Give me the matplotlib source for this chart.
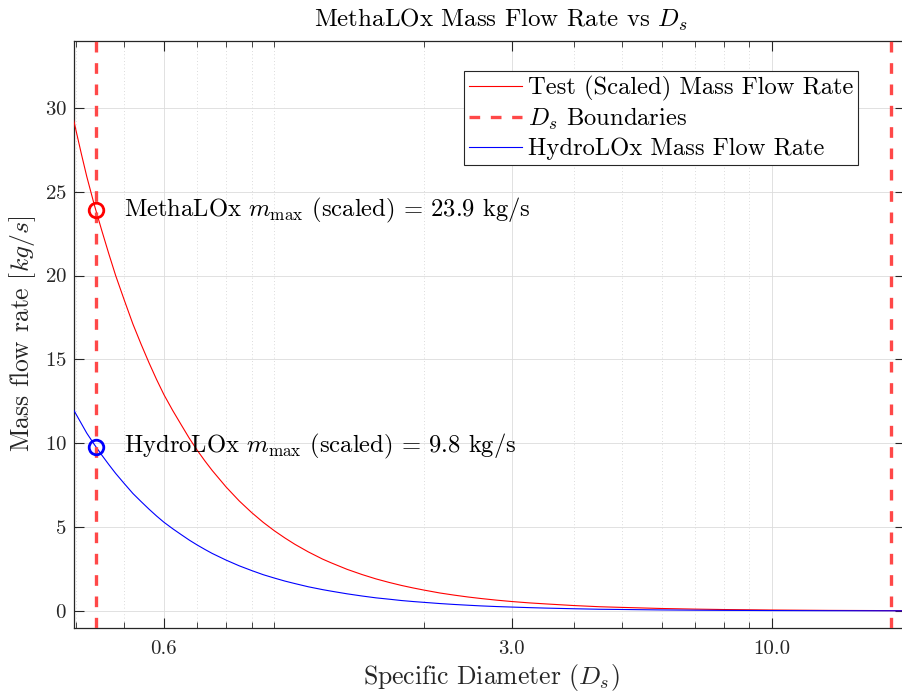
import matplotlib
matplotlib.use("Agg")
import matplotlib.pyplot as plt
from matplotlib.ticker import FixedLocator, FixedFormatter, LogLocator, NullFormatter

plt.rcParams['font.family'] = 'serif'
plt.rcParams['font.serif'] = ['cmr10', 'DejaVu Serif']
plt.rcParams['mathtext.fontset'] = 'cm'
plt.rcParams['axes.unicode_minus'] = False
plt.rcParams['axes.formatter.use_mathtext'] = True

# ---- data ----
ds = [0.395, 0.41, 0.42, 0.435, 0.45, 0.465, 0.48, 0.50, 0.52, 0.54, 0.56, 0.58,
      0.60, 0.625, 0.65, 0.675, 0.70, 0.725, 0.75, 0.80, 0.85, 0.90, 0.95, 1.0,
      1.05, 1.1, 1.17, 1.25, 1.3, 1.4, 1.5, 1.6, 1.7, 1.8, 1.9, 2.0, 2.15, 2.3,
      2.45, 2.6, 2.8, 3.0, 3.25, 3.5, 4.0, 4.5, 5.0, 6.0, 7.0, 8.0, 10.0, 13.0, 18.5]
metha_flow = [29.3, 27.2, 25.9, 24.2, 22.7, 21.3, 20.0, 18.5, 17.1, 15.9, 14.8, 13.8,
              12.9, 11.95, 11.1, 10.29, 9.58, 8.95, 8.38, 7.39, 6.56, 5.87, 5.28, 4.78,
              4.35, 3.97, 3.52, 3.09, 2.87, 2.48, 2.17, 1.91, 1.70, 1.52, 1.37, 1.24, 1.07, 0.94,
              0.83, 0.74, 0.64, 0.56, 0.48, 0.42, 0.32, 0.25, 0.21, 0.145, 0.108, 0.083, 0.054, 0.032, 0.016]
hydro_flow = [12.0, 11.15, 10.6, 9.92, 9.3, 8.73, 8.2, 7.58, 7.0, 6.52, 6.07, 5.66,
              5.29, 4.90, 4.55, 4.22, 3.93, 3.67, 3.43, 3.03, 2.69, 2.41, 2.16, 1.96,
              1.78, 1.63, 1.44, 1.27, 1.18, 1.02, 0.89, 0.78, 0.70, 0.62, 0.56, 0.51, 0.44, 0.385,
              0.34, 0.30, 0.26, 0.23, 0.197, 0.17, 0.13, 0.10, 0.086, 0.059, 0.044, 0.034, 0.022, 0.013, 0.0066]
ds_bounds = [0.438, 17.3]
ds_at_max = 0.438
metha_max = 23.9
hydro_max = 9.8
xtick_vals = [0.6, 3.0, 10.0]
xtick_labels = ['0.6', '3.0', '10.0']
ytick_vals = [0, 5, 10, 15, 20, 25, 30]

W, H = 902, 693
fig = plt.figure(figsize=(W / 100, H / 100), dpi=100)
ax_left, ax_right, ax_top, ax_bottom = 73.5, 905.0, 40.7, 627.7
axw, axh = ax_right - ax_left, ax_bottom - ax_top
ax = fig.add_axes([ax_left / W, (H - ax_bottom) / H, axw / W, axh / H])

ax.set_xscale('log')
ax.set_xlim(0.395, 18.48)
ax.set_ylim(-1, 34)

ax.grid(True, which='major', color='#dcdcdc', linewidth=0.6, linestyle='-', zorder=0)
ax.grid(True, which='minor', axis='x', color='#cfcfcf', linewidth=0.6, linestyle=(0, (1, 3)), zorder=0)

ax.plot(ds, metha_flow, color='#ff0000', lw=0.8, label='Test (Scaled) Mass Flow Rate', zorder=3)
for i, b in enumerate(ds_bounds):
    ax.axvline(b, color='#ff4848', lw=2.4, dashes=(3.2, 3.2),
               label='$D_s$ Boundaries' if i == 0 else None, zorder=4)
ax.plot(ds, hydro_flow, color='#0000ff', lw=0.8, label='HydroLOx Mass Flow Rate', zorder=3)

ax.plot([ds_at_max], [metha_max], 'o', ms=10.5, mfc='none', mec='#ff0000', mew=2.0, zorder=5)
ax.plot([ds_at_max], [hydro_max], 'o', ms=10.5, mfc='none', mec='#0000ff', mew=2.0, zorder=5)

ax.text(0.5, metha_max, 'MethaLOx $m_{\\mathrm{max}}$ (scaled) = %.1f kg/s' % metha_max,
        fontsize=17.7, va='center', ha='left', zorder=6)
ax.text(0.5, hydro_max, 'HydroLOx $m_{\\mathrm{max}}$ (scaled) = %.1f kg/s' % hydro_max,
        fontsize=17.7, va='center', ha='left', zorder=6)

ax.xaxis.set_major_locator(FixedLocator(xtick_vals))
ax.xaxis.set_major_formatter(FixedFormatter(xtick_labels))
ax.xaxis.set_minor_locator(LogLocator(base=10, subs=[1, 2, 3, 4, 5, 6, 7, 8, 9], numticks=20))
ax.xaxis.set_minor_formatter(NullFormatter())
ax.set_yticks(ytick_vals)

ax.tick_params(which='both', direction='in', top=True, right=True, colors='#262626',
               labelcolor='#262626', labelsize=15)
ax.tick_params(which='major', length=7, width=0.8)
ax.tick_params(which='minor', length=4, width=0.6)
ax.tick_params(axis='x', which='major', pad=9)
ax.tick_params(axis='y', which='major', pad=5)
for s in ax.spines.values():
    s.set_color('#262626')
    s.set_linewidth(0.9)

ax.set_xlabel('Specific Diameter $(D_s)$', fontsize=18.5, color='#262626')
ax.set_ylabel('Mass flow rate $[kg/s]$', fontsize=18.5, color='#262626')
ax.xaxis.set_label_coords((491.5 - ax_left) / axw, (ax_bottom - 662) / axh)
ax.yaxis.set_label_coords((38 - ax_left) / axw, 0.5)
ax.set_title('MethaLOx Mass Flow Rate vs $D_s$', fontsize=18, color='#000000',
             x=(501 - ax_left) / axw, pad=10)

leg = ax.legend(loc='upper right', bbox_to_anchor=((858.3 - ax_left) / axw,
                                                    (ax_bottom - 70.7) / axh),
                borderaxespad=0, fontsize=17.7, fancybox=False, framealpha=1,
                edgecolor='#262626', handlelength=2.15, handletextpad=0.25,
                borderpad=0.2, labelspacing=0.22)
leg.get_frame().set_linewidth(0.8)

fig.savefig('out.png', dpi=100)
